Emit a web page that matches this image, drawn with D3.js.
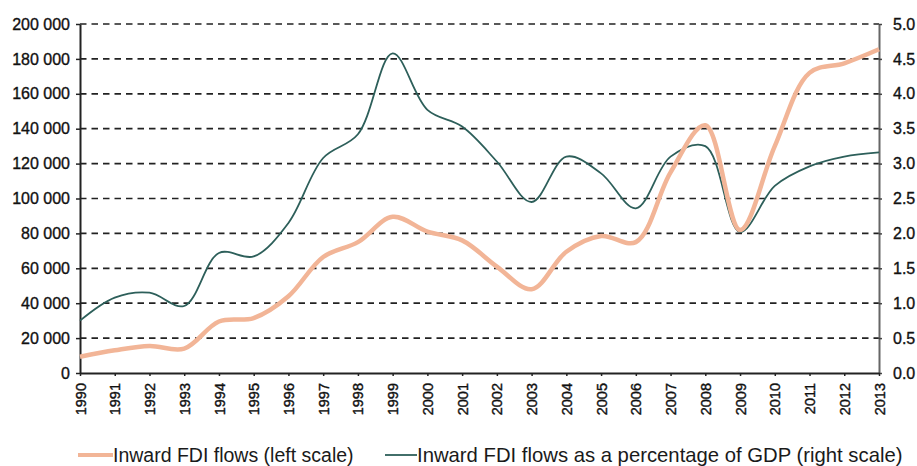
<!DOCTYPE html>
<html>
<head>
<meta charset="utf-8">
<script src="https://cdn.jsdelivr.net/npm/d3@7"></script>
<style>
  html, body { margin: 0; padding: 0; background: #fff; }
  svg { display: block; font-family: Arial, "Liberation Sans", sans-serif; }
</style>
</head>
<body>
<div id="chart"></div>
<script>
const years = [1990,1991,1992,1993,1994,1995,1996,1997,1998,1999,2000,2001,2002,2003,2004,2005,2006,2007,2008,2009,2010,2011,2012,2013];
const fdiFlows = [9300,13000,15500,14000,29500,31500,44000,66500,75000,89500,81000,76000,61000,48000,69500,78500,75000,115000,142000,82000,130000,172000,177500,185500];
const fdiPctGdp = [0.75,1.08,1.15,0.96,1.72,1.67,2.15,3.08,3.42,4.58,3.77,3.53,3.03,2.45,3.10,2.86,2.36,3.10,3.25,2.02,2.68,2.96,3.10,3.16];
const leftTicks = [0,20000,40000,60000,80000,100000,120000,140000,160000,180000,200000];
const rightTicks = [0,0.5,1.0,1.5,2.0,2.5,3.0,3.5,4.0,4.5,5.0];
const legendLabels = ["Inward FDI flows (left scale)", "Inward FDI flows as a percentage of GDP (right scale)"];

const W = 917, H = 466;
const m = {left: 80, right: 38, top: 24, bottom: 93};
const svg = d3.select("#chart").append("svg").attr("width", W).attr("height", H);

const x = d3.scaleLinear().domain([years[0], years[years.length-1]]).range([m.left, W - m.right]);
const yL = d3.scaleLinear().domain([0, 200000]).range([H - m.bottom, m.top]);
const yR = d3.scaleLinear().domain([0, 5]).range([H - m.bottom, m.top]);

const fmt = d => d3.format(",")(d).replace(/,/g, " ");

// gridlines
svg.append("g").selectAll("line").data(leftTicks.filter(d => d > 0)).join("line")
  .attr("x1", m.left).attr("x2", W - m.right)
  .attr("y1", d => yL(d)).attr("y2", d => yL(d))
  .attr("stroke", "#222").attr("stroke-width", 1.7).attr("stroke-dasharray", "6.5,5");

// left axis
const gL = svg.append("g").attr("transform", `translate(${m.left},0)`)
  .call(d3.axisLeft(yL).tickValues(leftTicks).tickFormat(fmt).tickSizeInner(4).tickSizeOuter(0).tickPadding(6));
gL.select(".domain").attr("stroke", "#222").attr("stroke-width", 2);
gL.selectAll(".tick line").attr("stroke", "#222").attr("stroke-width", 1.5);
gL.selectAll("text").attr("font-size", 16).attr("fill", "#111").attr("stroke", "#111").attr("stroke-width", 0.35);

// right axis
const gR = svg.append("g").attr("transform", `translate(${W - m.right},0)`)
  .call(d3.axisRight(yR).tickValues(rightTicks).tickFormat(d3.format(".1f")).tickSizeInner(3).tickSizeOuter(0).tickPadding(11));
gR.select(".domain").attr("stroke", "#666").attr("stroke-width", 2);
gR.selectAll(".tick line").attr("stroke", "#444").attr("stroke-width", 1.5);
gR.selectAll("text").attr("font-size", 16).attr("fill", "#111").attr("stroke", "#111").attr("stroke-width", 0.35);

// bottom axis
const gB = svg.append("g").attr("transform", `translate(0,${H - m.bottom})`)
  .call(d3.axisBottom(x).tickValues(years).tickFormat(d3.format("d")).tickSizeInner(3).tickSizeOuter(0).tickPadding(8));
gB.select(".domain").attr("stroke", "#222").attr("stroke-width", 2);
gB.selectAll(".tick line").attr("stroke", "#222").attr("stroke-width", 1.5);
gB.selectAll("text")
  .attr("font-size", 14.5).attr("fill", "#111").attr("stroke", "#111").attr("stroke-width", 0.4)
  .attr("transform", "rotate(-90)")
  .attr("text-anchor", "end")
  .attr("x", -10).attr("y", 0).attr("dy", "0.35em");

// lines
const lineL = d3.line().x((d, i) => x(years[i])).y(d => yL(d)).curve(d3.curveCatmullRom.alpha(0.5));
const lineR = d3.line().x((d, i) => x(years[i])).y(d => yR(d)).curve(d3.curveCatmullRom.alpha(0.5));

svg.append("path").datum(fdiPctGdp).attr("d", lineR)
  .attr("fill", "none").attr("stroke", "#2d5f5a").attr("stroke-width", 1.8);
svg.append("path").datum(fdiFlows).attr("d", lineL)
  .attr("fill", "none").attr("stroke", "#f2b597").attr("stroke-width", 4.5);

// legend
const leg = svg.append("g");
const ly = 455;
leg.append("line").attr("x1", 78).attr("x2", 113).attr("y1", ly).attr("y2", ly)
  .attr("stroke", "#f2b597").attr("stroke-width", 4);
leg.append("text").attr("x", 113).attr("y", ly).attr("dy", "0.35em")
  .attr("font-size", 19.5).attr("fill", "#1a1a1a").text(legendLabels[0]);
leg.append("line").attr("x1", 385).attr("x2", 417).attr("y1", ly).attr("y2", ly)
  .attr("stroke", "#2d5f5a").attr("stroke-width", 1.8);
leg.append("text").attr("x", 417).attr("y", ly).attr("dy", "0.35em")
  .attr("font-size", 20.3).attr("fill", "#1a1a1a").text(legendLabels[1]);
</script>
</body>
</html>
